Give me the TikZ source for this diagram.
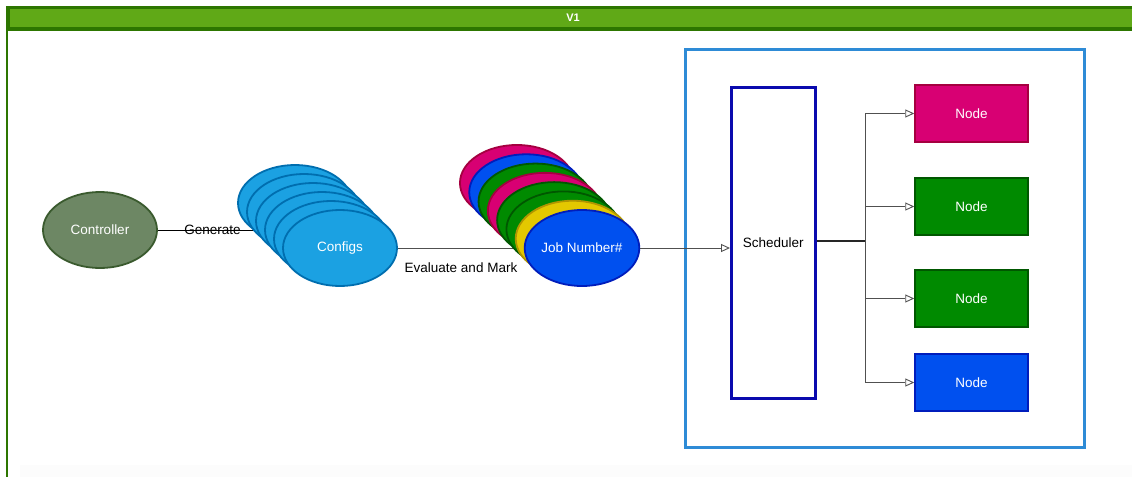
\documentclass[tikz,border=0pt]{standalone}
\usepackage{fontspec}
\setmainfont{Liberation Sans}
\usetikzlibrary{shapes.geometric,arrows.meta}
\pgfdeclarelayer{bg}
\pgfsetlayers{bg,main}

\definecolor{barfill}{HTML}{60A917}
\definecolor{barline}{HTML}{2D7600}
\definecolor{ctrlfill}{HTML}{6D8764}
\definecolor{ctrlline}{HTML}{3A5A2E}
\definecolor{cfgfill}{HTML}{1BA1E2}
\definecolor{cfgline}{HTML}{006EAF}
\definecolor{mag}{HTML}{D80073}
\definecolor{magline}{HTML}{A50040}
\definecolor{grn}{HTML}{008A00}
\definecolor{grnline}{HTML}{005700}
\definecolor{blu}{HTML}{0050EF}
\definecolor{bluline}{HTML}{001DBC}
\definecolor{yel}{HTML}{E3C800}
\definecolor{yelline}{HTML}{B09500}
\definecolor{schedline}{HTML}{0A0AAE}
\definecolor{boxline}{HTML}{2E8BD6}
\definecolor{wire}{HTML}{505050}

\tikzset{
  txt/.style={font=\fontsize{13.5}{15}\selectfont},
  oval/.style={ellipse, draw, line width=1.8pt, minimum width=114pt,
    minimum height=76pt, inner sep=0pt, txt, text=white},
  ovalcol/.style 2 args={oval, fill=#1, draw=#2},
  worker/.style={rectangle, draw, line width=1.5pt, minimum width=113pt,
    minimum height=57pt, inner sep=0pt, txt, text=white},
  wire/.style={draw=wire, line width=0.9pt},
  arr/.style={wire, -{Triangle[open, length=9pt, width=8pt]}},
}

\begin{document}
\begin{tikzpicture}[x=1pt, y=-1pt]
\useasboundingbox (0,0) rectangle (1132,477);

% page frame and title bar
\fill[black!1.2] (20,465) rectangle (1132,477);
\draw[barline, line width=2.5pt] (7,6) -- (7,477);
\node[rectangle, fill=barfill, draw=barline, line width=2.5pt,
  minimum width=1145pt, minimum height=22pt, inner sep=0pt,
  anchor=north west] (bar) at (7,6) {};
\draw[barline, line width=3pt] (7,28) -- (1132,28);
\node[text=white, font=\bfseries\fontsize{11}{13}\selectfont] (title) at (573,17.5) {V1};

% controller
\node[ovalcol={ctrlfill}{ctrlline}] (controller) at (100,230) {Controller};

% stack of configs, back to front
\foreach \k in {5,4,3,2,1} {
  \node[ovalcol={cfgfill}{cfgline}] (cfg\k) at ({340-9*\k},{248-9*\k}) {};
}
\node[ovalcol={cfgfill}{cfgline}] (configs) at (340,248) {Configs};

% stack of job numbers, back to front
\foreach \k/\fc/\lc in {7/mag/magline, 6/blu/bluline, 5/grn/grnline,
  4/mag/magline, 3/grn/grnline, 2/grn/grnline, 1/yel/yelline} {
  \node[ovalcol={\fc}{\lc}] (job\k) at ({582-9.29*\k},{248-9.29*\k}) {};
}
\node[ovalcol={blu}{bluline}] (job) at (582,248) {Job Number\#};

% scheduling area
\node[rectangle, draw=boxline, line width=2.5pt, minimum width=399pt,
  minimum height=398pt, inner sep=0pt, anchor=north west] (area) at (684,48) {};
\node[rectangle, draw=schedline, fill=white, line width=2.5pt,
  minimum width=84pt, minimum height=311pt, inner sep=0pt, txt,
  anchor=north west] (sched) at (730,86) {Scheduler};

\node[worker, fill=mag, draw=magline] (n1) at (971.5,113.5) {Node};
\node[worker, fill=grn, draw=grnline] (n2) at (971.5,206.5) {Node};
\node[worker, fill=grn, draw=grnline] (n3) at (971.5,298.5) {Node};
\node[worker, fill=blu, draw=bluline] (n4) at (971.5,382.5) {Node};

% connectors
\begin{pgfonlayer}{bg}
  \draw[wire, draw=black] (controller.east) -- (controller.east -| configs.center)
    node[pos=0.3, txt, text=black, inner sep=0pt] (genlbl) {Generate};
  \draw[wire] (configs.center) -- (job.center)
    node[pos=0.5, yshift=-20pt, txt, text=black, inner sep=0pt] (evallbl) {Evaluate and Mark};
\end{pgfonlayer}
\draw[arr] (job.east) -- (job.east -| sched.west);

\coordinate (bus) at (865,241);
\draw[line width=1.4pt, draw=black!85] (sched.east |- bus) -- (bus);
\foreach \n in {n1,n2,n3,n4} {
  \draw[arr] (bus) |- (\n.west);
}
\end{tikzpicture}
\end{document}
